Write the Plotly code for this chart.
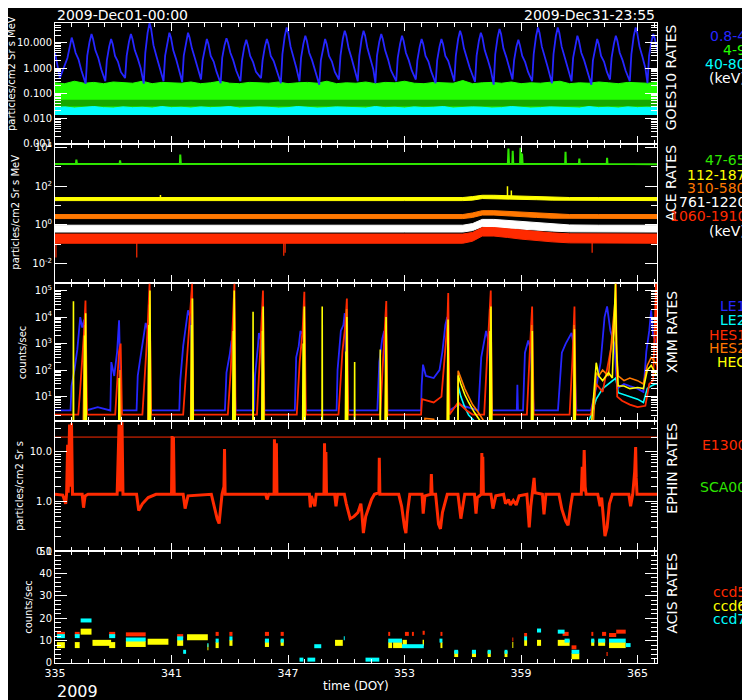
import plotly.graph_objects as go

# ======================= DATA =======================
DOY_RANGE = [335, 366]

# ---- GOES10 panel ----
goes_start = (335.0, 4.0)
goes_peak_day = [335.86, 336.88, 337.89, 338.91, 339.87, 340.89, 341.85, 342.82, 343.83, 344.85,
                 345.91, 346.93, 347.89, 348.91, 349.92, 350.89, 351.80, 352.87, 353.88, 354.90,
                 355.86, 356.93, 357.89, 358.86, 359.87, 360.89, 361.90, 362.92, 363.88, 364.90, 365.81]
goes_trough_day = [335.25, 336.58, 337.59, 338.61, 339.57, 340.59, 341.55, 342.52, 343.53, 344.55,
                   345.61, 346.63, 347.59, 348.61, 349.62, 350.59, 351.50, 352.57, 353.58, 354.60,
                   355.56, 356.63, 357.59, 358.56, 359.57, 360.59, 361.60, 362.62, 363.58, 364.60, 365.51]
goes_peak_val = [16, 22, 14, 22, 60, 25, 25, 14, 15, 13, 14, 40, 19, 14, 30, 30, 22, 19, 14, 14,
                 30, 25, 35, 13, 40, 40, 19, 14, 19, 40, 22]
goes_base_val = [2.5, 3, 2, 3, 4, 3, 3, 2, 2.5, 2, 2, 3.5, 2.5, 2, 3, 3, 3, 2.5, 2, 2, 3, 3, 3.5, 2,
                 3.5, 3.5, 2.5, 2, 2.5, 3.5, 3]
goes_rise_val = [8, 11, 7, 11, 25, 12, 12, 7, 8, 7, 7, 18, 9, 7, 14, 14, 11, 9, 7, 7, 14, 12, 16, 7,
                 18, 18, 9, 7, 9, 18, 11]
goes_top_val = [10, 14, 9, 14, 35, 16, 16, 9, 10, 8, 9, 25, 12, 9, 19, 19, 14, 12, 9, 9, 19, 16, 22, 8,
                25, 25, 12, 9, 12, 25, 14]
goes_trough_val = [0.4, 0.24, 0.3, 0.4, 0.24, 0.3, 0.28, 0.35, 0.25, 0.3, 0.4, 0.25, 0.3, 0.22, 0.35,
                   0.3, 0.25, 0.3, 0.35, 0.25, 0.3, 0.28, 0.22, 0.35, 0.3, 0.25, 0.3, 0.22, 0.35, 0.3, 0.25]
goes_fall_val = [4, 5, 3, 5, 8, 5, 6, 3, 4, 3, 3, 7, 4, 3, 6, 6, 5, 4, 3, 3, 6, 5, 6, 3, 7, 7, 4, 3, 4, 7, 5]
goes_knee_hi = [2.2, 2.5, 1.8, 2.4, 3.0, 2.2, 2.5, 1.8, 2.0, 1.7, 1.9, 2.8, 2.0, 1.8, 2.5, 2.4, 2.2, 2.0,
                1.8, 1.9, 2.6, 2.2, 2.7, 1.7, 2.9, 2.8, 2.0, 1.8, 2.0, 2.8, 2.2]
goes_knee_lo = [0.8, 0.9, 0.7, 1.0, 1.1, 0.8, 0.9, 0.7, 0.8, 0.7, 0.8, 1.0, 0.8, 0.7, 0.9, 0.9, 0.8, 0.8,
                0.7, 0.8, 1.0, 0.9, 1.0, 0.7, 1.1, 1.0, 0.8, 0.7, 0.8, 1.0, 0.9]

goes_band_t = [335.0, 335.5, 336.0, 336.5, 337.0, 337.5, 338.0, 338.5, 339.0, 339.5, 340.0, 340.5,
               341.0, 341.5, 342.0, 342.5, 343.0, 343.5, 344.0, 344.5, 345.0, 345.5, 346.0, 346.5,
               347.0, 347.5, 348.0, 348.5, 349.0, 349.5, 350.0, 350.5, 351.0, 351.5, 352.0, 352.5,
               353.0, 353.5, 354.0, 354.5, 355.0, 355.5, 356.0, 356.5, 357.0, 357.5, 358.0, 358.5,
               359.0, 359.5, 360.0, 360.5, 361.0, 361.5, 362.0, 362.5, 363.0, 363.5, 364.0, 364.5,
               365.0, 365.5, 366.0]
goes_green_hi = [0.26, 0.24, 0.30, 0.25, 0.27, 0.24, 0.28, 0.26, 0.25, 0.30, 0.24, 0.27, 0.26, 0.25,
                 0.28, 0.24, 0.26, 0.30, 0.25, 0.24, 0.27, 0.26, 0.25, 0.28, 0.24, 0.26, 0.27, 0.25,
                 0.30, 0.24, 0.26, 0.25, 0.28, 0.24, 0.27, 0.26, 0.30, 0.25, 0.24, 0.27, 0.26, 0.25,
                 0.32, 0.24, 0.26, 0.27, 0.25, 0.28, 0.24, 0.26, 0.25, 0.27, 0.30, 0.24, 0.26, 0.25,
                 0.28, 0.26, 0.24, 0.27, 0.26, 0.25, 0.27]
goes_green_lo = 0.027
goes_green_gap = (0.03, 0.055)      # region where the green trace is interleaved with gaps
goes_cyan_hi = [0.027, 0.029, 0.026, 0.028, 0.030, 0.027, 0.026, 0.029, 0.027, 0.028, 0.026, 0.030,
                0.027, 0.028, 0.026, 0.029, 0.027, 0.028, 0.030, 0.026, 0.027, 0.029, 0.028, 0.026,
                0.027, 0.030, 0.028, 0.026, 0.027, 0.029, 0.028, 0.027, 0.026, 0.030, 0.027, 0.028,
                0.026, 0.029, 0.027, 0.028, 0.030, 0.026, 0.027, 0.029, 0.028, 0.026, 0.027, 0.030,
                0.028, 0.026, 0.027, 0.029, 0.028, 0.027, 0.026, 0.030, 0.027, 0.028, 0.026, 0.029,
                0.027, 0.028, 0.027]
goes_cyan_lo = 0.0145

# ---- ACE panel ----
ace_t = [335, 338, 341, 344, 347, 350, 353, 356.0, 356.5, 357.0, 357.6, 358.3, 359.0, 359.8, 360.6, 361.5, 363, 366]
ace_yellow_lo = [18, 18, 18, 18, 18, 18, 18, 18, 19, 23, 24, 23, 21, 20, 19, 18, 18, 18]
ace_yellow_hi = [26, 26, 26, 26, 26, 26, 26, 26, 29, 34, 34, 32, 30, 29, 27, 26, 26, 26]
ace_orange_lo = [2.1, 2.1, 2.1, 2.1, 2.1, 2.1, 2.1, 2.1, 2.4, 3.2, 3.2, 3.0, 2.7, 2.4, 2.2, 2.1, 2.1, 2.1]
ace_orange_hi = [3.4, 3.4, 3.4, 3.4, 3.4, 3.4, 3.4, 3.4, 4.1, 5.4, 5.4, 5.0, 4.5, 4.0, 3.7, 3.4, 3.4, 3.4]
ace_white_lo = [0.42, 0.42, 0.42, 0.42, 0.42, 0.42, 0.42, 0.42, 0.5, 0.8, 0.8, 0.72, 0.62, 0.53, 0.47, 0.43,
                0.42, 0.42]
ace_white_hi = [0.95, 0.95, 0.95, 0.95, 0.95, 0.95, 0.95, 0.95, 1.15, 1.9, 1.9, 1.7, 1.45, 1.25, 1.1, 0.98,
                0.95, 0.95]
ace_red_lo = [0.11, 0.11, 0.11, 0.11, 0.11, 0.11, 0.11, 0.11, 0.14, 0.26, 0.26, 0.22, 0.18, 0.15, 0.13, 0.115,
              0.11, 0.11]
ace_red_hi = [0.33, 0.33, 0.33, 0.33, 0.33, 0.33, 0.33, 0.33, 0.4, 0.72, 0.72, 0.62, 0.5, 0.42, 0.38, 0.34,
              0.33, 0.33]
ace_green = [(335.0, 1450), (336.08, 1450), (336.1, 2400), (336.13, 1450), (338.33, 1450), (338.35, 2200),
             (338.38, 1450), (341.43, 1450), (341.45, 4400), (341.48, 1450), (358.32, 1450), (358.35, 9000),
             (358.38, 1450), (358.55, 1450), (358.57, 7000), (358.6, 1450), (358.95, 1450), (358.97, 10000),
             (359.0, 1450), (359.03, 1450), (359.05, 5000), (359.08, 1450), (361.27, 1450), (361.29, 6200),
             (361.31, 1450), (361.98, 1450), (362.0, 2700), (362.02, 1450), (363.41, 1450), (363.43, 3000),
             (363.45, 1450), (365.0, 1350), (366.0, 1400)]
ace_yellow_spikes = [(340.43, 35), (358.3, 100), (358.5, 60)]
ace_red_spikes = [(335.05, 0.02), (339.21, 0.02), (346.78, 0.025), (346.85, 0.035), (362.66, 0.035)]

# ---- XMM panel ----
xmm_le1 = [(335.0, 3), (335.8, 3), (335.85, 25), (336.0, 100), (336.15, 600), (336.3, 10000), (336.4, 4000),
           (336.5, 8000), (336.6, 3), (337.2, 4), (337.85, 3), (337.9, 200), (338.05, 60), (338.2, 500),
           (338.3, 7600), (338.4, 3), (339.2, 3), (339.26, 60), (339.4, 300), (339.55, 1500), (339.67, 6000),
           (339.8, 3000), (339.9, 3), (341.4, 3), (341.45, 40), (341.6, 800), (341.75, 5000), (341.85, 18000),
           (342.0, 8000), (342.1, 3), (343.75, 3), (343.83, 80), (344.0, 400), (344.09, 1300), (344.2, 500),
           (344.3, 3), (345.25, 3), (345.3, 60), (345.45, 800), (345.5, 2500), (345.65, 1000), (345.75, 3),
           (347.35, 3), (347.42, 300), (347.55, 800), (347.64, 3000), (347.8, 2000), (347.9, 3), (349.5, 3),
           (349.55, 100), (349.72, 3000), (349.85, 5000), (349.92, 14000), (350.05, 3), (351.6, 3),
           (351.7, 200), (351.85, 1500), (351.95, 3000), (352.1, 3), (353.85, 3), (353.88, 26), (353.95, 160),
           (354.1, 60), (354.5, 50), (354.8, 100), (354.95, 500), (355.1, 5000), (355.2, 10000), (355.3, 3),
           (355.8, 5), (356.8, 3), (356.95, 300), (357.2, 3000), (357.35, 1000), (357.5, 3), (358.78, 3),
           (358.81, 28), (358.84, 3), (359.1, 3), (359.2, 450), (359.37, 1300), (359.5, 600), (359.65, 3),
           (360.9, 3), (361.1, 450), (361.3, 1000), (361.6, 2500), (361.7, 1000), (361.85, 3), (362.6, 3),
           (362.87, 22), (363.1, 200), (363.3, 10000), (363.43, 25000), (363.6, 3000), (363.8, 1000),
           (363.95, 20), (364.3, 30), (364.6, 25), (365.0, 20), (365.3, 15), (365.45, 500), (365.6, 3000),
           (365.7, 18000), (365.8, 2000), (366.0, 1000)]
xmm_hes1 = [(335.0, 2.1), (336.2, 2.1), (336.3, 20), (336.42, 300), (336.5, 3000), (336.57, 42000), (336.65, 2.1),
            (338.1, 2.1), (338.2, 50), (338.3, 500), (338.38, 1000), (338.45, 2.1),
            (339.5, 2.1), (339.6, 30), (339.75, 2000), (339.87, 180000), (339.95, 2.1),
            (341.6, 2.1), (341.75, 100), (341.9, 3000), (342.06, 180000), (342.12, 2.1),
            (343.9, 2.1), (344.05, 100), (344.15, 5000), (344.24, 180000), (344.3, 2.1),
            (345.4, 2.1), (345.55, 300), (345.71, 100000), (345.78, 2.1),
            (347.45, 2.1), (347.6, 200), (347.75, 3000), (347.84, 90000), (347.92, 2.1),
            (349.6, 2.1), (349.8, 500), (349.95, 5000), (350.03, 50000), (350.1, 2.1),
            (351.75, 2.1), (351.9, 300), (352.06, 40000), (352.12, 2.1),
            (353.85, 2.1), (353.9, 8), (354.5, 6), (354.9, 10), (355.05, 300), (355.2, 5000), (355.25, 80000),
            (355.32, 2.1), (355.76, 6), (356.2, 3), (356.5, 2.1),
            (357.1, 2.1), (357.25, 300), (357.44, 100000), (357.5, 2.1),
            (359.3, 2.1), (359.45, 500), (359.57, 25000), (359.65, 2.1),
            (361.5, 2.1), (361.65, 300), (361.75, 25000), (361.82, 2.1),
            (362.6, 2.1), (362.87, 30), (363.2, 15), (363.5, 200), (363.8, 3000), (363.88, 180000), (363.95, 10),
            (364.2, 7), (364.6, 5), (365.0, 4), (365.4, 4.5), (365.6, 30), (365.8, 40), (365.95, 180000),
            (366.0, 100)]
xmm_hes2 = [(335.0, 0.5), (336.45, 0.5), (336.5, 200), (336.55, 5000), (336.6, 0.5),
            (338.3, 0.5), (338.35, 100), (338.4, 0.5),
            (339.78, 0.5), (339.82, 300), (339.86, 30000), (339.9, 0.5),
            (341.98, 0.5), (342.02, 500), (342.05, 50000), (342.1, 0.5),
            (344.17, 0.5), (344.2, 1000), (344.23, 50000), (344.28, 0.5),
            (345.65, 0.5), (345.68, 300), (345.7, 20000), (345.75, 0.5),
            (347.78, 0.5), (347.8, 300), (347.83, 20000), (347.88, 0.5),
            (349.98, 0.5), (350.0, 500), (350.02, 20000), (350.07, 0.5),
            (352.0, 0.5), (352.03, 200), (352.05, 10000), (352.1, 0.5),
            (354.0, 0.5), (354.05, 1.5), (354.5, 1.4), (354.6, 0.5),
            (355.2, 0.5), (355.23, 5000), (355.27, 0.5),
            (355.75, 0.5), (355.76, 95), (355.9, 50), (356.1, 20), (356.3, 10), (356.5, 5), (356.8, 2.5),
            (357.05, 1.3), (357.1, 0.5),
            (357.38, 0.5), (357.42, 20000), (357.47, 0.5),
            (359.52, 0.5), (359.55, 5000), (359.6, 0.5),
            (361.7, 0.5), (361.73, 5000), (361.78, 0.5),
            (362.7, 0.5), (362.87, 80), (363.0, 60), (363.2, 100), (363.5, 60), (363.85, 50000), (363.9, 1000),
            (364.0, 60), (364.3, 40), (364.6, 50), (365.0, 40), (365.3, 30), (365.5, 150), (365.7, 300),
            (365.9, 200), (366.0, 150)]
xmm_hec = [(335.0, 0.5), (335.94, 0.5), (335.95, 39000), (335.96, 0.5),
           (336.5, 0.5), (336.52, 2000), (336.54, 0.5), (336.58, 14000), (336.62, 0.5),
           (338.28, 0.5), (338.3, 50), (338.34, 0.5),
           (339.8, 0.5), (339.83, 5000), (339.85, 0.5), (339.89, 100000), (339.93, 0.5),
           (342.0, 0.5), (342.03, 5000), (342.05, 0.5), (342.08, 50000), (342.12, 0.5),
           (344.15, 0.5), (344.18, 3000), (344.2, 0.5), (344.23, 100000), (344.28, 0.5),
           (345.19, 0.5), (345.2, 16000), (345.21, 0.5),
           (345.65, 0.5), (345.68, 3000), (345.7, 0.5), (345.72, 25000), (345.76, 0.5),
           (347.75, 0.5), (347.78, 1000), (347.8, 0.5), (347.84, 25000), (347.88, 0.5),
           (348.75, 0.5), (348.76, 25000), (348.77, 0.5),
           (349.95, 0.5), (349.98, 500), (350.0, 0.5), (350.03, 10000), (350.07, 0.5),
           (350.42, 0.5), (350.43, 200), (350.44, 0.5),
           (351.74, 0.5), (351.75, 600), (351.76, 0.5),
           (352.0, 0.5), (352.05, 10000), (352.1, 0.5),
           (355.2, 0.5), (355.24, 8000), (355.28, 0.5),
           (355.75, 0.5), (355.76, 63), (355.9, 30), (356.1, 12), (356.3, 6), (356.6, 2.5), (356.9, 1.2),
           (356.95, 0.5),
           (357.38, 0.5), (357.4, 3000), (357.42, 0.5), (357.45, 25000), (357.5, 0.5),
           (359.55, 0.5), (359.58, 3000), (359.62, 0.5),
           (361.72, 0.5), (361.75, 3500), (361.8, 0.5),
           (362.6, 0.5), (362.87, 190), (363.0, 60), (363.2, 40), (363.5, 80), (363.7, 50), (363.86, 180000),
           (363.92, 500), (364.0, 25), (364.3, 25), (364.6, 20), (365.0, 22), (365.3, 20), (365.5, 100),
           (365.7, 150), (365.9, 80), (366.0, 60)]
xmm_le2 = [(335.0, 0.5), (336.55, 0.5), (336.57, 100), (336.6, 0.5),
           (339.85, 0.5), (339.87, 200), (339.9, 0.5),
           (344.22, 0.5), (344.24, 150), (344.27, 0.5),
           (345.68, 0.5), (345.7, 100), (345.73, 0.5),
           (355.75, 0.5), (355.76, 25), (355.9, 10), (356.1, 4), (356.3, 2), (356.6, 1.2), (356.7, 0.5),
           (357.43, 0.5), (357.44, 30), (357.47, 0.5),
           (362.15, 0.5), (362.2, 1.2), (362.5, 1.2), (362.87, 8), (363.2, 20), (363.5, 30), (363.88, 50),
           (364.0, 14), (364.3, 12), (364.6, 10), (365.0, 8), (365.3, 6), (365.5, 20), (365.7, 25),
           (365.9, 30), (366.0, 30)]

# ---- EPHIN panel ----
ephin_limit = 20
ephin_e1300 = [(335.0, 1.4), (335.4, 1.35), (335.55, 0.9), (335.6, 1.5), (335.65, 14), (335.68, 1.5),
               (335.75, 36), (335.78, 2), (335.85, 38), (335.9, 1.4), (336.4, 1.4), (336.47, 0.75),
               (336.55, 1.3), (336.7, 1.4), (338.2, 1.4), (338.3, 36), (338.35, 1.6), (338.45, 40),
               (338.5, 1.4), (339.2, 1.4), (339.31, 0.66), (339.5, 0.9), (339.8, 1.2), (340.2, 1.4),
               (341.0, 1.4), (341.03, 21), (341.06, 1.8), (341.1, 20), (341.14, 1.4), (341.6, 1.4),
               (341.7, 0.72), (341.85, 1.3), (343.05, 1.4), (343.2, 0.8), (343.35, 0.45), (343.45, 0.36),
               (343.5, 0.6), (343.6, 1.4), (343.7, 2), (343.73, 11.5), (343.76, 1.4), (345.85, 1.4),
               (345.92, 1.1), (346.0, 1.4), (346.28, 1.4), (346.3, 18), (346.33, 1.6), (346.4, 15),
               (346.43, 1.4), (348.1, 1.4), (348.15, 0.76), (348.2, 1.3), (348.38, 0.8), (348.45, 1.4),
               (348.85, 1.4), (348.88, 15), (348.91, 1.5), (348.95, 10), (348.98, 1.4), (349.4, 1.4),
               (349.47, 0.8), (349.55, 1.4), (349.9, 1.4), (350.0, 0.9), (350.2, 0.45), (350.4, 0.5),
               (350.6, 0.6), (350.75, 0.9), (350.8, 0.6), (350.88, 0.23), (351.0, 0.5), (351.3, 1.1),
               (351.45, 1.4), (351.68, 1.5), (351.7, 7.6), (351.73, 1.4), (352.7, 1.4), (352.85, 0.8),
               (353.0, 0.3), (353.07, 0.23), (353.15, 0.6), (353.27, 1.4), (353.9, 1.4), (353.96, 0.57),
               (354.05, 1.3), (354.35, 1.4), (354.38, 3.6), (354.42, 1.4), (354.6, 1.4), (354.75, 0.35),
               (354.85, 0.28), (354.95, 0.6), (355.2, 1.4), (355.75, 1.4), (355.9, 0.45), (356.0, 0.8),
               (356.1, 1.4), (356.6, 1.4), (356.68, 0.57), (356.75, 1.2), (356.95, 1.4), (356.98, 9.5),
               (357.0, 2), (357.03, 8), (357.06, 1.4), (357.45, 1.4), (357.55, 0.72), (357.7, 1.3),
               (358.1, 1.4), (358.2, 0.9), (358.35, 1.1), (358.45, 0.85), (358.6, 1.05), (358.75, 0.85),
               (358.9, 1.3), (359.3, 1.4), (359.42, 0.3), (359.5, 0.8), (359.6, 1.6), (359.67, 3),
               (359.72, 1.5), (360.1, 1.4), (360.18, 0.55), (360.28, 1.4), (360.95, 1.4), (361.1, 0.7),
               (361.3, 0.4), (361.42, 0.33), (361.55, 0.8), (361.65, 1.4), (362.1, 1.4), (362.15, 5),
               (362.2, 1.6), (362.25, 11), (362.3, 2), (362.35, 1.4), (362.95, 1.4), (363.07, 0.8),
               (363.15, 1.2), (363.22, 0.5), (363.32, 0.2), (363.43, 0.3), (363.55, 0.9), (363.7, 1.4),
               (364.55, 1.4), (364.64, 0.8), (364.75, 1.4), (364.85, 4), (364.9, 12.6), (364.93, 3),
               (364.97, 1.4), (366.0, 1.4)]

# ---- ACIS panel: (start DOY, end DOY, counts/sec) ----
acis_ccd5 = [(335.10, 335.51, 13), (336.02, 336.27, 13), (337.79, 338.10, 13), (338.65, 339.67, 12.8),
             (341.29, 341.60, 12), (343.27, 343.43, 13), (343.98, 344.14, 13), (345.81, 346.02, 13),
             (346.62, 346.78, 13), (352.16, 352.26, 13), (353.02, 353.22, 13), (353.38, 353.48, 13),
             (353.93, 354.04, 13.5), (354.85, 354.95, 13), (358.55, 358.60, 10.5), (359.16, 359.31, 12.5),
             (361.14, 361.45, 13), (361.60, 361.85, 7), (362.62, 362.72, 13), (363.17, 363.38, 13),
             (363.40, 363.46, 4), (363.53, 363.90, 12.5), (363.90, 364.39, 14)]
acis_ccd6 = [(335.10, 335.51, 8), (336.02, 336.27, 8), (336.32, 336.88, 14), (336.93, 337.89, 9),
             (337.79, 338.10, 8), (338.65, 339.67, 8.5), (339.77, 340.84, 9.5), (341.29, 341.60, 9),
             (341.80, 342.87, 11.5), (342.85, 342.90, 7), (343.27, 343.43, 8), (343.98, 344.14, 9),
             (345.81, 346.02, 8.5), (346.62, 346.78, 9), (349.42, 349.82, 9), (352.16, 352.36, 8),
             (352.41, 352.87, 8), (352.90, 353.12, 9), (353.93, 354.00, 9), (354.85, 354.95, 8),
             (355.56, 355.76, 4), (356.47, 356.68, 4), (357.28, 357.44, 4), (358.15, 358.30, 4),
             (358.55, 358.60, 8), (359.16, 359.31, 9), (359.82, 360.03, 9), (360.89, 361.50, 9),
             (361.60, 362.00, 3), (362.61, 362.77, 9), (362.97, 363.33, 9), (363.53, 364.39, 8)]
acis_ccd7 = [(335.10, 335.51, 12), (336.02, 336.27, 12), (336.32, 336.88, 19), (337.79, 338.10, 12),
             (338.65, 339.67, 10.5), (341.29, 341.60, 11), (341.60, 341.75, 5), (342.85, 342.90, 8),
             (343.27, 343.43, 10), (343.98, 344.14, 11), (345.81, 346.02, 10), (346.62, 346.78, 10),
             (347.59, 347.79, 1.5), (348.00, 348.40, 1.5), (348.35, 348.71, 7.5), (349.87, 349.92, 11),
             (350.99, 351.70, 1.5), (352.16, 352.87, 10), (352.87, 353.99, 7.5), (354.80, 354.95, 10),
             (355.56, 355.76, 5), (356.47, 356.68, 5), (357.28, 357.44, 5), (358.15, 358.30, 5),
             (359.16, 359.31, 11), (359.82, 360.03, 14.5), (360.89, 361.24, 14), (361.24, 361.50, 10),
             (361.60, 362.00, 5), (362.61, 362.77, 10), (362.97, 363.33, 10), (363.53, 364.39, 10),
             (364.39, 364.64, 8)]

# ======================= STYLE =======================
BLUE = '#2626ff'
GREEN = '#22ff00'
GREEN_GAPPED = '#17a800'
ACEGREEN = '#2ee600'
CYAN = '#00ffff'
RED = '#ff2a00'
ORANGE = '#ff7700'
YELLOW = '#ffff00'
WHITE = '#ffffff'
FONT = 'DejaVu Sans'

# the page body has an 8px margin, so the figure is 8px smaller and everything is laid
# out in reference-pixel coordinates shifted by that margin
OFF = 8
W, H = 750 - OFF, 700 - OFF
L, R, T, B = 48, 657, 17, 663      # plot area in reference pixels


def px(x):
    return (x - L) / (R - L)


def py(y):
    return (B - y) / (B - T)


fig = go.Figure()


def axn(i):
    return ('x' if i == 1 else 'x%d' % i), ('y' if i == 1 else 'y%d' % i)


def add_line(xs, ys, color, panel, width=1.5):
    xa, ya = axn(panel)
    fig.add_trace(go.Scatter(x=xs, y=ys, mode='lines', line=dict(color=color, width=width),
                             xaxis=xa, yaxis=ya, hoverinfo='skip', showlegend=False))


def add_band(ts, lo, hi, color, panel, edge=1):
    if not isinstance(lo, list):
        lo = [lo for _ in ts]
    if not isinstance(hi, list):
        hi = [hi for _ in ts]
    xa, ya = axn(panel)
    fig.add_trace(go.Scatter(x=list(ts) + list(ts)[::-1], y=list(hi) + list(lo)[::-1], mode='lines',
                             fill='toself', fillcolor=color, line=dict(color=color, width=edge),
                             xaxis=xa, yaxis=ya, hoverinfo='skip', showlegend=False))


def unzip(pairs):
    return [p[0] for p in pairs], [p[1] for p in pairs]


def spikes(pairs, base):
    xs, ys = [], []
    for t, v in pairs:
        xs += [t, t, None]
        ys += [base, v, None]
    return xs, ys


def segments(segs):
    xs, ys = [], []
    for s, e, v in segs:
        xs += [s, e, None]
        ys += [v, v, None]
    return xs, ys


# ---- panel 1: GOES ----
add_band(goes_band_t, goes_green_lo, goes_green_hi, GREEN, 1)
add_band(goes_band_t, goes_green_gap[0], goes_green_gap[1], GREEN_GAPPED, 1, edge=0)
add_band(goes_band_t, goes_cyan_lo, goes_cyan_hi, CYAN, 1)
bx, by = [goes_start[0]], [goes_start[1]]
for i in range(len(goes_peak_day)):
    P = goes_peak_day[i]
    bx += [goes_trough_day[i], P - 0.22, P - 0.1, P, P + 0.08, P + 0.2, P + 0.35, P + 0.5]
    by += [goes_trough_val[i], goes_base_val[i], goes_rise_val[i], goes_peak_val[i], goes_top_val[i],
           goes_fall_val[i], goes_knee_hi[i], goes_knee_lo[i]]
add_line(bx, by, BLUE, 1, 1.8)

# ---- panel 2: ACE ----
add_line(*unzip(ace_green), ACEGREEN, 2, 2)
add_band(ace_t, ace_yellow_lo, ace_yellow_hi, YELLOW, 2)
add_line(*spikes(ace_yellow_spikes, 25), YELLOW, 2, 1.5)
add_band(ace_t, ace_orange_lo, ace_orange_hi, ORANGE, 2)
add_band(ace_t, ace_white_lo, ace_white_hi, WHITE, 2)
add_band(ace_t, ace_red_lo, ace_red_hi, RED, 2)
add_line(*spikes(ace_red_spikes, 0.12), RED, 2, 1.2)

# ---- panel 3: XMM ----
add_line(*unzip(xmm_le1), BLUE, 3, 1.8)
add_line(*unzip(xmm_le2), CYAN, 3, 1.6)
add_line(*unzip(xmm_hes1), RED, 3, 1.8)
add_line(*unzip(xmm_hes2), ORANGE, 3, 1.6)
add_line(*unzip(xmm_hec), YELLOW, 3, 1.6)

# ---- panel 4: EPHIN ----
add_line([DOY_RANGE[0], DOY_RANGE[1]], [ephin_limit, ephin_limit], RED, 4, 1)
add_line(*unzip(ephin_e1300), RED, 4, 3)

# ---- panel 5: ACIS ----
add_line(*segments(acis_ccd5), RED, 5, 4)
add_line(*segments(acis_ccd6), YELLOW, 5, 6)
add_line(*segments(acis_ccd7), CYAN, 5, 4)

# ======================= AXES =======================
panel_px = [(17, 139), (139, 279), (279, 419), (419, 550), (550, 663)]

tickfont = dict(family=FONT, size=10, color=WHITE)
common_x = dict(range=DOY_RANGE, tickmode='linear', tick0=335, dtick=6, ticks='inside', ticklen=8,
                tickcolor=WHITE, showline=True, linecolor=WHITE, linewidth=1, mirror='ticks',
                showgrid=False, zeroline=False, tickfont=dict(family=FONT, size=11, color=WHITE),
                minor=dict(tickmode='linear', tick0=335, dtick=6 / 7, ticks='inside', ticklen=4,
                           tickcolor=WHITE, showgrid=False))
common_y = dict(ticks='inside', ticklen=12, tickcolor=WHITE, showline=True, linecolor=WHITE, linewidth=1,
                mirror='ticks', showgrid=False, zeroline=False, tickfont=tickfont)

yspecs = [
    dict(type='log', range=[-3, 1.78], tickmode='array', tickvals=[0.001, 0.01, 0.1, 1, 10],
         ticktext=['0.001', '0.010', '0.100', '1.000', '10.000'],
         minor=dict(dtick='D1', ticks='inside', ticklen=6, tickcolor=WHITE, showgrid=False)),
    dict(type='log', range=[-3, 4.2], tickmode='array', tickvals=[0.01, 1, 100, 10000],
         ticktext=['10<sup>-2</sup>', '10<sup>0</sup>', '10<sup>2</sup>', '10<sup>4</sup>'],
         minor=dict(tickmode='linear', tick0=0, dtick=1, ticks='inside', ticklen=6, tickcolor=WHITE,
                    showgrid=False)),
    dict(type='log', range=[0.07, 5.3], tickmode='array', tickvals=[10, 100, 1000, 10000, 100000],
         ticktext=['10<sup>1</sup>', '10<sup>2</sup>', '10<sup>3</sup>', '10<sup>4</sup>', '10<sup>5</sup>'],
         minor=dict(dtick='D1', ticks='inside', ticklen=6, tickcolor=WHITE, showgrid=False)),
    dict(type='log', range=[-1, 1.62], tickmode='array', tickvals=[0.1, 1, 10], ticktext=['0.1', '1.0', '10.0'],
         minor=dict(dtick='D1', ticks='inside', ticklen=6, tickcolor=WHITE, showgrid=False)),
    dict(type='linear', range=[0, 50], tickmode='linear', tick0=0, dtick=10,
         minor=dict(tickmode='linear', tick0=0, dtick=2, ticks='inside', ticklen=6, tickcolor=WHITE,
                    showgrid=False)),
]

layout = dict(width=W, height=H, paper_bgcolor='black', plot_bgcolor='black',
              margin=dict(l=L - OFF, r=W - (R - OFF), t=T - OFF, b=H - (B - OFF), pad=0),
              showlegend=False, font=dict(family=FONT, color=WHITE))
for i in range(1, 6):
    top, bot = panel_px[i - 1]
    xa = dict(common_x)
    xa['anchor'] = 'y' if i == 1 else 'y%d' % i
    xa['showticklabels'] = (i == 5)
    if i > 1:
        xa['matches'] = 'x'
    ya = dict(common_y)
    ya.update(yspecs[i - 1])
    ya['domain'] = [py(bot), py(top)]
    ya['anchor'] = 'x' if i == 1 else 'x%d' % i
    layout['xaxis' if i == 1 else 'xaxis%d' % i] = xa
    layout['yaxis' if i == 1 else 'yaxis%d' % i] = ya

fig.update_layout(**layout)

# ======================= TEXT =======================
ann = []


def text(x, y, s, color=WHITE, size=14, xanchor='center', angle=0):
    ann.append(dict(x=px(x), y=py(y), xref='paper', yref='paper', text=s, showarrow=False,
                    xanchor=xanchor, yanchor='middle', textangle=angle,
                    font=dict(family=FONT, size=size, color=color)))


text(48, 9, '2009-Dec01-00:00', size=14, xanchor='left')
text(657, 9, '2009-Dec31-23:55', size=14, xanchor='right')
text(48, 692, '2009', size=16, xanchor='left')
text(353, 686, 'time (DOY)', size=12)

# y-axis titles
text(4, 68, 'particles/cm2 Sr s MeV', size=10, angle=-90)
text(8, 208, 'particles/cm2 Sr s MeV', size=10, angle=-90)
text(16, 349, 'counts/sec', size=10, angle=-90)
text(12, 484, 'particles/cm2 Sr s', size=10, angle=-90)
text(21, 606, 'counts/sec', size=10, angle=-90)

# panel names
for name, yc in [('GOES10 RATES', 72), ('ACE RATES', 179), ('XMM RATES', 329), ('EPHIN RATES', 466),
                 ('ACIS RATES', 592)]:
    text(672, yc, name, size=14, angle=-90)

# legends
legend_items = [
    ('0.8-4', BLUE, 30), ('4-9', GREEN, 44), ('40-80', CYAN, 58), ('(keV)', WHITE, 73),
    ('47-65', ACEGREEN, 155), ('112-187', YELLOW, 170), ('310-580', ORANGE, 184), ('761-1220', WHITE, 198),
    ('1060-1910', RED, 212), ('(keV)', WHITE, 227),
    ('LE1', BLUE, 303), ('LE2', CYAN, 317), ('HES1', RED, 332), ('HES2', ORANGE, 345), ('HEC', YELLOW, 359),
    ('E1300', RED, 443), ('SCA00', ACEGREEN, 485),
    ('ccd5', RED, 591), ('ccd6', YELLOW, 605), ('ccd7', CYAN, 619),
]
for s, c, yc in legend_items:
    text(749, yc, s, color=c, size=14, xanchor='right')

fig.update_layout(annotations=ann)
fig.write_html('out.html')
